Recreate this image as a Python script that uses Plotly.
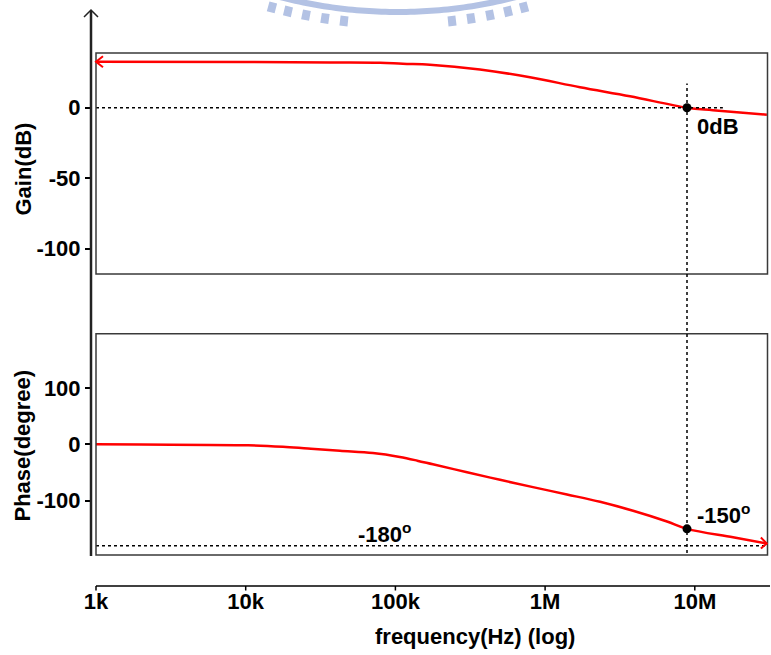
import math
import plotly.graph_objects as go

# ---- open-loop response ----
gain_freq = [1.0e3, 1.0e4, 3.66e4, 7.9e4, 1.12e5, 1.70e5, 3.67e5, 7.92e5,
             1.71e6, 3.69e6, 8.87e6, 1.32e7, 3.03e7]
gain_db = [32.6, 32.5, 32.1, 31.9, 31.1, 30.5, 27.1, 21.6,
           14.5, 8.1, 0.0, -1.8, -5.0]

phase_freq = [1.0e3, 2.0e3, 1.04e4, 1.86e4, 2.73e4, 4.26e4, 7.08e4, 1.07e5,
              1.40e5, 1.78e5, 3.01e5, 5.0e5, 8.3e5, 1.40e6, 2.33e6, 3.87e6,
              6.52e6, 8.87e6, 1.80e7, 3.03e7]
phase_deg = [0.0, -0.5, -1.8, -4.8, -7.8, -11.5, -15.5, -22.5,
             -29.0, -35.5, -49.5, -63.0, -76.0, -89.0, -102.0, -118.0,
             -137.0, -150.0, -165.0, -176.0]

# unity-gain crossover and phase references
unity_freq = 8.87e6
unity_gain = 0.0
unity_phase = -150.0
ref_phase = -180.0
zero_db_line_end = 1.54e7

freq_ticks = [1e3, 1e4, 1e5, 1e6, 1e7]
freq_labels = ["1k", "10k", "100k", "1M", "10M"]
gain_ticks = [0, -50, -100]
gain_labels = ["0", "-50", "-100"]
phase_ticks = [100, 0, -100]
phase_labels = ["100", "0", "-100"]

# ---- page geometry (pixels) ----
W, H = 771, 655
ML, MR, MT, MB = 91, 3, 53, 69
PW = W - ML - MR
PH = H - MT - MB
DEC_PX = 149.7          # width of one decade
X0_PX = 96              # position of 1 kHz


def xp(px):
    return (px - ML) / PW


def yp(py):
    return (H - MB - py) / PH


x_range = [3 - (X0_PX - ML) / DEC_PX, 3 + (W - MR - X0_PX) / DEC_PX]
gain_dom = [yp(274), 1.0]
phase_dom = [yp(555), yp(333.7)]
gain_range = [-117.9, 38.8]
phase_range = [-196.4, 196.3]

FONT = "Liberation Sans, Arial, sans-serif"
bold = dict(family=FONT, size=22, color="black", weight="bold")
RED = "#ff0000"
dotted = dict(color="black", width=1.5, dash="3px,3px")
curve = dict(color=RED, width=2.5, shape="spline", smoothing=1.0)

fig = go.Figure()

# gain curve
fig.add_trace(go.Scatter(x=gain_freq, y=gain_db, mode="lines", line=curve,
                         xaxis="x", yaxis="y", showlegend=False, hoverinfo="skip"))
# 0 dB reference
fig.add_trace(go.Scatter(x=[gain_freq[0], zero_db_line_end], y=[unity_gain, unity_gain],
                         mode="lines", line=dotted, xaxis="x", yaxis="y",
                         showlegend=False, hoverinfo="skip"))
fig.add_trace(go.Scatter(x=[unity_freq], y=[unity_gain], mode="markers",
                         marker=dict(color="black", size=9), xaxis="x", yaxis="y",
                         showlegend=False, hoverinfo="skip"))

# phase curve
fig.add_trace(go.Scatter(x=phase_freq, y=phase_deg, mode="lines", line=curve,
                         xaxis="x", yaxis="y2", showlegend=False, hoverinfo="skip"))
# -180 degree reference
fig.add_trace(go.Scatter(x=[phase_freq[0], phase_freq[-1]], y=[ref_phase, ref_phase],
                         mode="lines", line=dotted, xaxis="x", yaxis="y2",
                         showlegend=False, hoverinfo="skip"))
fig.add_trace(go.Scatter(x=[unity_freq], y=[unity_phase], mode="markers",
                         marker=dict(color="black", size=9), xaxis="x", yaxis="y2",
                         showlegend=False, hoverinfo="skip"))

shapes = []
# panel frames
for yref in ("y domain", "y2 domain"):
    shapes.append(dict(type="rect", xref="paper", yref=yref,
                       x0=xp(96), x1=xp(767.5), y0=0, y1=1,
                       line=dict(color="#3a3a3a", width=1.5)))
# long vertical axis line on the left
shapes.append(dict(type="line", xref="paper", yref="paper",
                   x0=0, x1=0, y0=yp(556), y1=yp(11),
                   line=dict(color="#222", width=2.5)))
# frequency axis baseline and its decade ticks
shapes.append(dict(type="line", xref="paper", yref="paper",
                   x0=xp(96), x1=xp(770), y0=0, y1=0,
                   line=dict(color="black", width=1.6)))
for f in freq_ticks:
    shapes.append(dict(type="line", xref="x", yref="paper",
                       x0=f, x1=f, y0=0, y1=yp(590.5),
                       line=dict(color="black", width=1.5)))
# crossover marker line through both panels
shapes.append(dict(type="line", xref="x", yref="paper",
                   x0=unity_freq, x1=unity_freq, y0=yp(553), y1=yp(83.5),
                   line=dotted))


def chevron(xref, xanchor, yref, yanchor, path, color, width):
    """Open arrowhead drawn in pixel units around an anchor point."""
    return dict(type="path", xref=xref, yref=yref,
                xsizemode="pixel", ysizemode="pixel",
                xanchor=xanchor, yanchor=yanchor, path=path,
                line=dict(color=color, width=width))


# arrowheads: axis top, start of gain trace, end of phase trace
shapes.append(chevron("paper", 0, "paper", yp(10), "M -7,-7 L 0,0 L 7,-7", "#222", 1.5))
shapes.append(chevron("x", gain_freq[0], "y", gain_db[0], "M 7,5.5 L 0,0 L 7,-5.5", RED, 2))
shapes.append(chevron("x", phase_freq[-1], "y2", phase_deg[-1], "M -6,6 L 0,0 L -6,-5", RED, 2))

# emblem arc at the top of the page
EM = "#b3c2e4"
cx, cy = 398.0, -462.0


def pt(r, ang):
    a = math.radians(ang)
    return xp(cx + r * math.cos(a)), yp(cy + r * math.sin(a))


ring = []
angs = [72 + i * 0.5 for i in range(73)]
for a in angs:
    ring.append(pt(477, a))
for a in reversed(angs):
    ring.append(pt(471, a))
path = "M " + " L ".join(f"{x:.5f},{y:.5f}" for x, y in ring) + " Z"
for tx in [272, 288, 306, 325, 344, 452, 471, 490, 508, 524]:
    ang = math.degrees(math.atan2(math.sqrt(486 ** 2 - (tx - cx) ** 2), tx - cx))
    d = math.degrees(4.0 / 486)
    q = [pt(481, ang - d), pt(491, ang - d), pt(491, ang + d), pt(481, ang + d)]
    path += " M " + " L ".join(f"{x:.5f},{y:.5f}" for x, y in q) + " Z"
shapes.append(dict(type="path", xref="paper", yref="paper", path=path,
                   fillcolor=EM, line=dict(width=0), layer="below"))

annotations = []
# value labels
annotations.append(dict(xref="x", yref="y", x=math.log10(unity_freq), y=unity_gain,
                        text="0dB", showarrow=False, xanchor="left", yanchor="middle",
                        xshift=8, yshift=-19, font=bold))
annotations.append(dict(xref="x", yref="y2", x=math.log10(unity_freq), y=unity_phase,
                        text="%d<sup>o</sup>" % unity_phase, showarrow=False,
                        xanchor="left", yanchor="middle", xshift=8, yshift=15, font=bold))
annotations.append(dict(xref="x", yref="y2", x=4.74, y=ref_phase,
                        text="%d<sup>o</sup>" % ref_phase, showarrow=False,
                        xanchor="left", yanchor="middle", yshift=13, font=bold))
# axis titles
annotations.append(dict(xref="paper", yref="paper", x=xp(22.5), y=yp(169),
                        text="Gain(dB)", textangle=-90, showarrow=False,
                        xanchor="center", yanchor="middle", font=bold))
annotations.append(dict(xref="paper", yref="paper", x=xp(22.5), y=yp(446),
                        text="Phase(degree)", textangle=-90, showarrow=False,
                        xanchor="center", yanchor="middle", font=bold))
annotations.append(dict(xref="paper", yref="paper", x=xp(475), y=yp(636),
                        text="frequency(Hz) (log)", showarrow=False,
                        xanchor="center", yanchor="middle", font=bold))

axis_common = dict(showgrid=False, zeroline=False, showline=False,
                   tickcolor="black", tickwidth=1.5, tickfont=bold)

fig.update_layout(
    width=W, height=H,
    margin=dict(l=ML, r=MR, t=MT, b=MB, pad=0),
    paper_bgcolor="white", plot_bgcolor="rgba(0,0,0,0)",
    showlegend=False,
    xaxis=dict(type="log", range=x_range, domain=[0, 1], anchor="free", position=0,
               tickvals=freq_ticks, ticktext=freq_labels, ticks="", **axis_common),
    yaxis=dict(domain=gain_dom, range=gain_range, anchor="free", position=0,
               tickvals=gain_ticks, ticktext=gain_labels, ticks="outside", ticklen=6,
               **axis_common),
    yaxis2=dict(domain=phase_dom, range=phase_range, anchor="free", position=0,
                tickvals=phase_ticks, ticktext=phase_labels, ticks="outside", ticklen=6,
                **axis_common),
    shapes=shapes,
    annotations=annotations,
)

fig.write_html("out.html")
